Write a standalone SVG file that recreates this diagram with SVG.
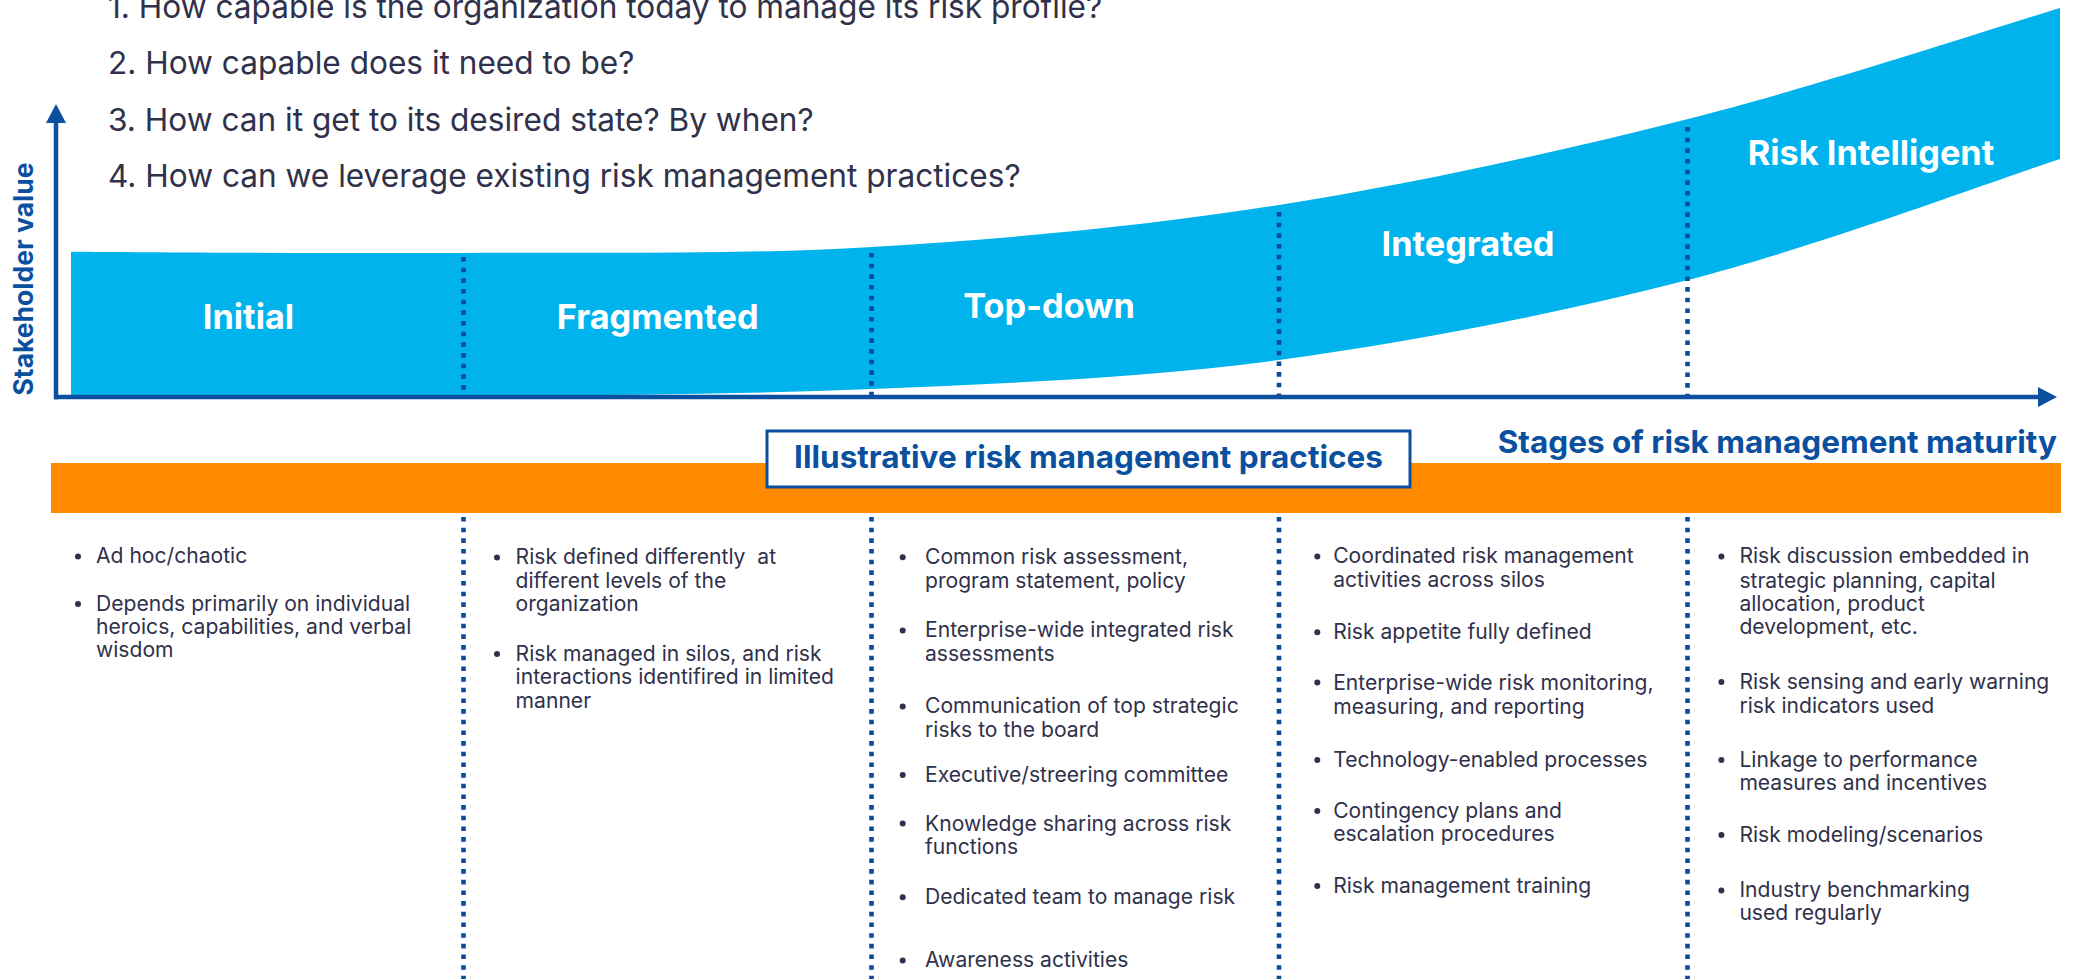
<svg xmlns="http://www.w3.org/2000/svg" width="2076" height="979" viewBox="0 0 2076 979">
<style>
.q{font-family:Inter,"Liberation Sans",sans-serif;font-size:31.6px;fill:#30314b}
.stage{font-family:Inter,"Liberation Sans",sans-serif;font-size:34.3px;font-weight:700;fill:#ffffff;text-anchor:middle}
.hdr{font-family:Inter,"Liberation Sans",sans-serif;font-size:31.5px;font-weight:700;fill:#0a509f}
.b{font-family:Inter,"Liberation Sans",sans-serif;font-size:21.1px;fill:#30314b}
.dot{fill:#30314b}
.sep{stroke:#0a4c9a;stroke-width:4.6;stroke-dasharray:4.6 6.07;fill:none}
.axis{stroke:#0a509f;stroke-width:4.5;fill:none}
</style>
<defs>
<marker id="arr" markerUnits="userSpaceOnUse" markerWidth="20" markerHeight="20" refX="0" refY="10" orient="auto">
<path d="M0,0 L19,10 L0,20 Z" fill="#0a509f"/>
</marker>
</defs>

<g id="questions">
<text class="q" x="108" y="17.5">1. How capable is the organization today to manage its risk profile?</text>
<text class="q" x="108" y="74">2. How capable does it need to be?</text>
<text class="q" x="108" y="130.5">3. How can it get to its desired state? By when?</text>
<text class="q" x="108" y="187">4. How can we leverage existing risk management practices?</text>
</g>

<g id="band">
<path d="M71,251.7 C136.3,252.2 329.5,253.5 463,253 C596.5,252.2 736,255 872,247 C1008,239 1143,226.3 1279,205 C1415,183.7 1557.8,152 1688,119 C1818.2,86 1998,26.7 2060,8 L2060,159 C1998,179.2 1818.2,246.5 1688,280 C1557.8,313.5 1415,341.8 1279,360 C1143,378.2 1008,383.2 872,389 C736,394.8 596.5,395 463,396 L71,396 Z" fill="#00b3ec"/>
</g>

<g id="connectors">
<line class="sep" x1="463.5" y1="257" x2="463.5" y2="399"/>
<line class="sep" x1="871.5" y1="253" x2="871.5" y2="399"/>
<line class="sep" x1="1279" y1="212" x2="1279" y2="399"/>
<line class="sep" x1="1687.5" y1="127" x2="1687.5" y2="399"/>
<line class="sep" x1="463.5" y1="517" x2="463.5" y2="979"/>
<line class="sep" x1="871.5" y1="517" x2="871.5" y2="979"/>
<line class="sep" x1="1279" y1="517" x2="1279" y2="979"/>
<line class="sep" x1="1687.5" y1="517" x2="1687.5" y2="979"/>
<line class="axis" x1="56" y1="399.2" x2="56" y2="123" marker-end="url(#arr)"/>
<line class="axis" x1="54" y1="397" x2="2038" y2="397" marker-end="url(#arr)"/>
</g>

<g id="y-label">
<text transform="translate(33,279) rotate(-90)" style="font-family:Inter,'Liberation Sans',sans-serif;font-size:26.5px;font-weight:700;fill:#0a509f;text-anchor:middle">Stakeholder value</text>
</g>

<g id="stage-initial"><text class="stage" x="248.5" y="329">Initial</text></g>
<g id="stage-fragmented"><text class="stage" x="657.7" y="329">Fragmented</text></g>
<g id="stage-topdown"><text class="stage" x="1049" y="318">Top-down</text></g>
<g id="stage-integrated"><text class="stage" x="1468" y="256">Integrated</text></g>
<g id="stage-intelligent"><text class="stage" x="1871" y="164.7">Risk Intelligent</text></g>

<g id="axis-title"><text class="hdr" x="2057" y="453" text-anchor="end">Stages of risk management maturity</text></g>

<g id="practices-bar">
<rect x="51" y="463" width="2010" height="50" fill="#ff8a00"/>
<rect x="767" y="431" width="643" height="56" fill="#ffffff" stroke="#0a509f" stroke-width="3"/>
<text class="hdr" x="1088.5" y="468" text-anchor="middle">Illustrative risk management practices</text>
</g>

<g id="col-initial">
<circle class="dot" cx="78" cy="556.5" r="3"/>
<text class="b" x="96" y="563.3">Ad hoc/chaotic</text>
<circle class="dot" cx="78" cy="604" r="3"/>
<text class="b" x="96" y="610.7">Depends primarily on individual</text>
<text class="b" x="96" y="634">heroics, capabilities, and verbal</text>
<text class="b" x="96" y="657.3">wisdom</text>
</g>

<g id="col-fragmented">
<circle class="dot" cx="497" cy="557.5" r="3"/>
<text class="b" x="515.6" y="564.3" xml:space="preserve">Risk defined differently  at</text>
<text class="b" x="515.6" y="588">different levels of the</text>
<text class="b" x="515.6" y="611.3">organization</text>
<circle class="dot" cx="497" cy="654" r="3"/>
<text class="b" x="515.6" y="660.7">Risk managed in silos, and risk</text>
<text class="b" x="515.6" y="684.3">interactions identifired in limited</text>
<text class="b" x="515.6" y="708">manner</text>
</g>

<g id="col-topdown">
<circle class="dot" cx="902.7" cy="557.3" r="3"/>
<text class="b" x="925" y="564">Common risk assessment,</text>
<text class="b" x="925" y="587.5">program statement, policy</text>
<circle class="dot" cx="902.7" cy="630.5" r="3"/>
<text class="b" x="925" y="637.3">Enterprise-wide integrated risk</text>
<text class="b" x="925" y="660.7">assessments</text>
<circle class="dot" cx="902.7" cy="706.5" r="3"/>
<text class="b" x="925" y="713.3">Communication of top strategic</text>
<text class="b" x="925" y="736.7">risks to the board</text>
<circle class="dot" cx="902.7" cy="775" r="3"/>
<text class="b" x="925" y="781.7">Executive/streering committee</text>
<circle class="dot" cx="902.7" cy="823.5" r="3"/>
<text class="b" x="925" y="830.7">Knowledge sharing across risk</text>
<text class="b" x="925" y="854">functions</text>
<circle class="dot" cx="902.7" cy="897.3" r="3"/>
<text class="b" x="925" y="904">Dedicated team to manage risk</text>
<circle class="dot" cx="902.7" cy="960.5" r="3"/>
<text class="b" x="925" y="967.3">Awareness activities</text>
</g>

<g id="col-integrated">
<circle class="dot" cx="1317.3" cy="556.5" r="3"/>
<text class="b" x="1333.2" y="563.3">Coordinated risk management</text>
<text class="b" x="1333.2" y="586.7">activities across silos</text>
<circle class="dot" cx="1317.3" cy="632.3" r="3"/>
<text class="b" x="1333.2" y="639">Risk appetite fully defined</text>
<circle class="dot" cx="1317.3" cy="682.5" r="3"/>
<text class="b" x="1333.2" y="690">Enterprise-wide risk monitoring,</text>
<text class="b" x="1333.2" y="714.3">measuring, and reporting</text>
<circle class="dot" cx="1317.3" cy="760" r="3"/>
<text class="b" x="1333.2" y="766.7">Technology-enabled processes</text>
<circle class="dot" cx="1317.3" cy="811" r="3"/>
<text class="b" x="1333.2" y="817.7">Contingency plans and</text>
<text class="b" x="1333.2" y="841">escalation procedures</text>
<circle class="dot" cx="1317.3" cy="886" r="3"/>
<text class="b" x="1333.2" y="892.7">Risk management training</text>
</g>

<g id="col-intelligent">
<circle class="dot" cx="1721.4" cy="556.5" r="3"/>
<text class="b" x="1739.4" y="563.3">Risk discussion embedded in</text>
<text class="b" x="1739.4" y="587.7">strategic planning, capital</text>
<text class="b" x="1739.4" y="611">allocation, product</text>
<text class="b" x="1739.4" y="634.3">development, etc.</text>
<circle class="dot" cx="1721.4" cy="682" r="3"/>
<text class="b" x="1739.4" y="689.3">Risk sensing and early warning</text>
<text class="b" x="1739.4" y="712.7">risk indicators used</text>
<circle class="dot" cx="1721.4" cy="760" r="3"/>
<text class="b" x="1739.4" y="766.7">Linkage to performance</text>
<text class="b" x="1739.4" y="790">measures and incentives</text>
<circle class="dot" cx="1721.4" cy="835" r="3"/>
<text class="b" x="1739.4" y="841.7">Risk modeling/scenarios</text>
<circle class="dot" cx="1721.4" cy="890.5" r="3"/>
<text class="b" x="1739.4" y="897.3">Industry benchmarking</text>
<text class="b" x="1739.4" y="920">used regularly</text>
</g>
</svg>
